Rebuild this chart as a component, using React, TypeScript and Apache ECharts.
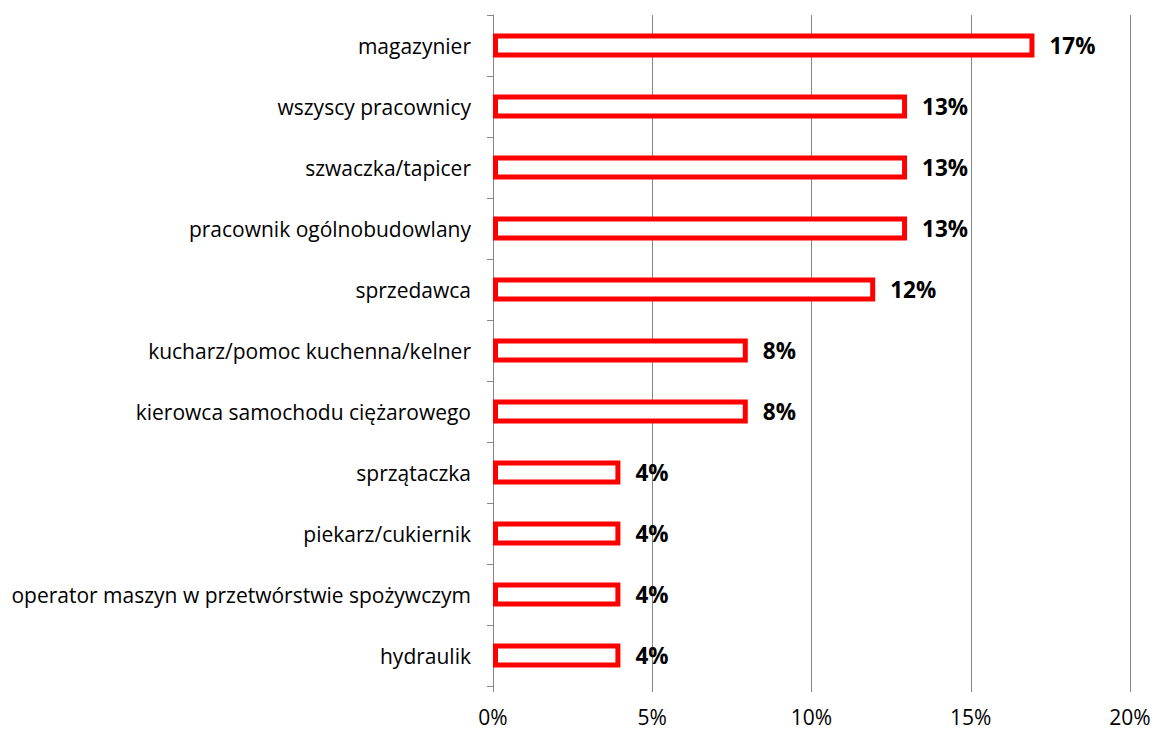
import React, { useEffect, useRef } from "react";
import * as echarts from "echarts";

const categories = [
  "magazynier",
  "wszyscy pracownicy",
  "szwaczka/tapicer",
  "pracownik ogólnobudowlany",
  "sprzedawca",
  "kucharz/pomoc kuchenna/kelner",
  "kierowca samochodu ciężarowego",
  "sprzątaczka",
  "piekarz/cukiernik",
  "operator maszyn w przetwórstwie spożywczym",
  "hydraulik",
];
const values = [17, 13, 13, 13, 12, 8, 8, 4, 4, 4, 4];
const xTicks = [0, 5, 10, 15, 20];

export default function App() {
  const ref = useRef<HTMLDivElement>(null);
  useEffect(() => {
    const chart = echarts.init(ref.current!, null, { renderer: "svg" });
    const font = "'Open Sans', sans-serif";
    chart.setOption({
      animation: false,
      grid: { left: 493, right: 24, top: 15, bottom: 43, containLabel: false },
      xAxis: {
        type: "value",
        min: xTicks[0],
        max: xTicks[xTicks.length - 1],
        interval: 5,
        axisLine: { show: false },
        axisTick: { show: true, length: 6, lineStyle: { color: "#868686" } },
        splitLine: { show: true, lineStyle: { color: "#868686", width: 1 } },
        axisLabel: {
          formatter: (v: number) => v + "%",
          color: "#000",
          fontSize: 21,
          fontFamily: font,
          margin: 20,
        },
      },
      yAxis: {
        type: "category",
        data: categories,
        inverse: true,
        axisLine: { show: true, lineStyle: { color: "#868686", width: 1 } },
        axisTick: { show: true, length: 6, lineStyle: { color: "#868686" } },
        axisLabel: {
          color: "#000",
          fontSize: 21,
          fontFamily: font,
          margin: 22,
        },
      },
      series: [
        {
          type: "bar",
          data: values,
          barWidth: 24,
          itemStyle: {
            color: "#ffffff",
            borderColor: "#ff0000",
            borderWidth: 5,
          },
          label: {
            show: true,
            position: "right",
            distance: 15,
            formatter: (p: any) => p.value + "%",
            color: "#000",
            fontWeight: "bold",
            fontSize: 22.5,
            fontFamily: font,
          },
        },
      ],
    });
    return () => chart.dispose();
  }, []);
  return <div ref={ref} style={{ width: 1154, height: 729, position: "absolute", left: 0, top: 0 }} />;
}
